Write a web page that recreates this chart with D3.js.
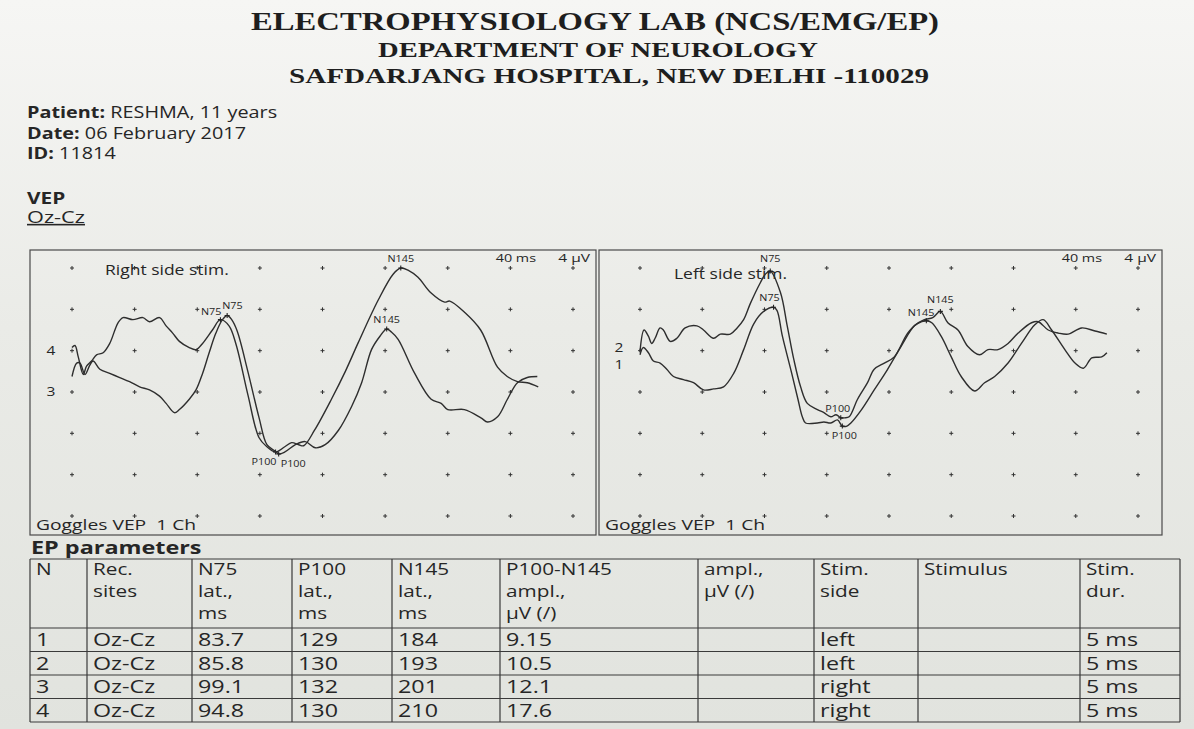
<!DOCTYPE html>
<html>
<head>
<meta charset="utf-8">
<script src="https://cdn.jsdelivr.net/npm/d3@7"></script>
<style>
body { margin: 0; background: #eceee9; }
svg { display: block; }
</style>
</head>
<body>
<div id="chart"></div>
<script>
// ---- data ----
const timeTicks = [0, 40, 80, 120, 160, 200, 240, 280, 320];   // ms, 40 ms / div
const uvTicks = [-8, -4, 0, 4, 8, 12, 16];                      // µV, 4 µV / div (negative up)

const panelTitles = ["Right side stim.", "Left side stim."];
const panelTraceNames = [["4", "3"], ["2", "1"]];
const panelTraceLabelUv = [[-0.1, 3.9], [-0.4, 1.3]];

// [ms, µV] samples, one array per curve
const trace4 = [[0,-0.3],[1.9,-0.5],[4,0.6],[7.2,2.3],[9.3,1.5],[12.5,1.0],[15.7,0.4],[19.9,0.2],[24.1,-0.7],[29.4,-2.7],[32.6,-3.2],[38.9,-3.0],[45.3,-3.2],[49.5,-2.8],[55.9,-3.2],[60.1,-2.4],[64.3,-1.7],[68.6,-0.9],[74.9,-0.3],[79.2,-0.1],[83.4,-0.7],[89.7,-2.0],[94.8,-3.0],[100.3,-2.4],[104.8,-0.6],[112.4,4.3],[119.4,8.4],[124.5,9.3],[130,9.8],[135.9,9.3],[140.3,8.9],[144.8,9.1],[148,9.2],[154.9,7.7],[165.7,4.7],[174.6,2.0],[182.9,-0.8],[195.6,-4.9],[205.1,-7.4],[210,-8.0],[214.6,-7.8],[221,-7.1],[229.2,-5.6],[238,-4.7],[241.3,-4.8],[250.8,-3.7],[261,-2.0],[271.8,1.6],[278,2.5],[284.5,3.0],[290.8,3.1],[297.8,3.5]];
const trace3 = [[0,2.5],[3.0,1.2],[5.1,1.2],[8.3,2.3],[11.4,1.4],[13.5,1.0],[17.8,1.8],[24.1,2.2],[30.5,2.6],[36.8,3.0],[43.2,3.5],[49.5,3.8],[55.9,4.4],[60.1,5.1],[65.4,6.0],[68.6,5.7],[74.9,4.7],[79.2,3.8],[83.4,2.2],[87.6,0.2],[91.9,-1.7],[96.1,-3.0],[99.1,-3.4],[102,-3.0],[105.5,-1.9],[112.3,2.0],[119.5,6.5],[124.5,9.1],[129.5,9.7],[132,10.0],[136,9.8],[142.7,9.1],[149,8.8],[155.4,9.4],[161.7,9.1],[170.2,7.7],[178.6,5.4],[185,3.1],[191.3,-0.1],[196.7,-1.4],[201,-2.1],[204,-1.8],[208.3,-1.1],[218.9,2.2],[229.4,4.7],[235.8,5.1],[240,5.7],[250.6,5.7],[261.2,6.5],[265.4,6.9],[271.8,6.4],[278.1,4.7],[284.5,3.1],[290.8,2.6],[297.2,2.5]];
const trace1 = [[0,0.1],[2.6,-2.0],[5.4,-1.4],[7.5,-0.7],[9.7,-1.2],[12.9,-2.2],[15,-2.0],[19.4,-0.9],[23.7,-1.2],[29,-2.2],[36.6,-2.4],[40.8,-2.0],[47.3,-1.2],[51.6,-1.6],[58,-1.6],[62.4,-2.2],[66.6,-3.0],[71,-4.6],[77.4,-6.6],[80.5,-7.4],[83.7,-7.7],[90.3,-5.6],[94.6,-2.4],[98.9,0.9],[103.2,3.5],[107.5,5.1],[114,5.7],[118.2,6.0],[122.6,6.4],[126,6.2],[129,6.5],[131.5,6.5],[134.4,6.4],[139.8,4.7],[146.2,3.1],[150.5,1.8],[157,1.2],[163.4,0.6],[172,-1.7],[178,-2.6],[184,-2.9],[187.5,-2.7],[193.5,-1.4],[200,0.6],[206.4,2.5],[215,3.9],[221.4,3.1],[227.9,2.5],[236.5,1.2],[245.1,-0.7],[253.7,-2.5],[259.1,-3.0],[264.5,-2.0],[273,-0.1],[279.5,1.2],[284.9,1.7],[290.3,0.7],[296.7,0.6],[300,0.2]];
const trace2 = [[0,0.4],[2.1,-0.3],[5.4,0.2],[8.6,1.0],[12.9,1.2],[17.2,1.8],[21.5,2.5],[27.9,2.8],[34.4,3.1],[40.8,3.8],[47.3,3.7],[53.7,3.5],[60.2,2.2],[66.6,-0.1],[73.1,-2.6],[79.5,-3.8],[85.8,-4.2],[88,-3.9],[91.5,-1.4],[97.5,2.2],[101.5,4.7],[104.3,6.4],[106.4,7.0],[114,7.0],[118.2,6.9],[122.6,7.0],[126.9,6.7],[130,7.3],[133,7.3],[135.5,7.0],[141.9,5.8],[150.5,3.8],[159.1,1.8],[167.7,-0.4],[176.3,-2.4],[182.7,-3.0],[188.1,-3.2],[193,-3.8],[197.8,-2.7],[204.3,-2.0],[210.7,-0.4],[218.2,0.4],[223.6,-0.1],[230,-0.1],[236.5,-0.7],[243,-1.7],[251.6,-2.7],[255.9,-2.8],[262.3,-2.0],[268.8,-1.7],[275.2,-1.6],[283.8,-2.2],[292.4,-1.9],[300,-1.6]];

// EP parameters table
const rowN = [1, 2, 3, 4];
const recSites = ["Oz-Cz", "Oz-Cz", "Oz-Cz", "Oz-Cz"];
const n75Lat = [83.7, 85.8, 99.1, 94.8];
const p100Lat = [129, 130, 132, 130];
const n145Lat = [184, 193, 201, 210];
const p100n145Amp = [9.15, 10.5, 12.1, 17.6];
const ampl = ["", "", "", ""];
const stimSide = ["left", "left", "right", "right"];
const stimulus = ["", "", "", ""];
const stimDur = ["5 ms", "5 ms", "5 ms", "5 ms"];
const tableHeader = [["N"], ["Rec.", "sites"], ["N75", "lat.,", "ms"], ["P100", "lat.,", "ms"], ["N145", "lat.,", "ms"],
                     ["P100-N145", "ampl.,", "µV (/)"], ["ampl.,", "µV (/)"], ["Stim.", "side"], ["Stimulus"], ["Stim.", "dur."]];

// which table rows belong to which panel
const panelRows = [[3, 2], [1, 0]];
const rowTraces = [trace1, trace2, trace3, trace4];

// ---- layout ----
const width = 1194, height = 729;
const sans = "'Open Sans', 'Noto Sans', sans-serif";
const ink = "#262626";
const stretch = 1.28;   // the printout's type is wide

const svg = d3.select("#chart").append("svg")
              .attr("width", width)
              .attr("height", height);

const grad = svg.append("defs").append("linearGradient")
                .attr("id", "paper").attr("x1", 0).attr("y1", 0).attr("x2", 0).attr("y2", 1);
grad.append("stop").attr("offset", "0%").attr("stop-color", "#f6f6f4");
grad.append("stop").attr("offset", "45%").attr("stop-color", "#eaebe7");
grad.append("stop").attr("offset", "100%").attr("stop-color", "#e1e3de");
svg.append("rect").attr("width", width).attr("height", height).attr("fill", "url(#paper)");

// text helper: widened sans text
function label(parent, x, y, str, size, opts = {}) {
    const t = parent.append("text")
                    .attr("transform", `translate(${x},${y}) scale(${opts.sx || stretch},1)`)
                    .attr("text-anchor", opts.anchor || "start")
                    .style("font-family", sans)
                    .style("font-size", size + "px")
                    .style("font-weight", opts.bold ? "bold" : "normal")
                    .style("white-space", "pre")
                    .attr("fill", ink);
    if (str !== null) t.text(str);
    return t;
}

// Letterhead
const serif = "'Liberation Serif', 'DejaVu Serif', serif";
const heads = [
    {text: "ELECTROPHYSIOLOGY LAB (NCS/EMG/EP)", x: 595, y: 30, size: 25, len: 688},
    {text: "DEPARTMENT OF NEUROLOGY", x: 598, y: 57, size: 20, len: 440},
    {text: "SAFDARJANG HOSPITAL, NEW DELHI -110029", x: 609, y: 83, size: 22, len: 640}
];
svg.selectAll("text.head")
   .data(heads)
   .join("text")
   .attr("class", "head")
   .attr("x", d => d.x)
   .attr("y", d => d.y)
   .attr("text-anchor", "middle")
   .attr("textLength", d => d.len)
   .attr("lengthAdjust", "spacingAndGlyphs")
   .style("font-family", serif)
   .style("font-weight", "bold")
   .style("font-size", d => d.size + "px")
   .attr("fill", "#1e1e1e")
   .text(d => d.text);

// Patient info
const info = [["Patient:", " RESHMA, 11 years"], ["Date:", " 06 February 2017"], ["ID:", " 11814"]];
info.forEach((d, i) => {
    const t = label(svg, 27, 118 + i * 20.5, null, 16, {sx: 1.24});
    t.append("tspan").style("font-weight", "bold").text(d[0]);
    t.append("tspan").text(d[1]);
});
label(svg, 27, 204, "VEP", 16, {bold: true, sx: 1.3});
label(svg, 27, 223, "Oz-Cz", 16, {sx: 1.36}).style("text-decoration", "underline");

// ---- waveform panels ----
const panels = [
    {x: 30, y: 250, w: 566, h: 285, x0: 72, x1: 573},
    {x: 599, y: 250, w: 563, h: 285, x0: 640, x1: 1138}
];

// label placement per table row: [dx, dy, anchor] for N75, P100, N145
const peakPlace = {
    3: [[1, -5, "end"], [1, 13, "end"], [0, -6, "middle"]],
    2: [[-5, -7, "start"], [2, 13, "start"], [0, -6, "middle"]],
    0: [[0, -9, "middle"], [-3, -6, "middle"], [8, -5, "end"]],
    1: [[-4, -6, "middle"], [2, 13, "middle"], [0, -8, "middle"]]
};

const line = d3.line().curve(d3.curveCatmullRom.alpha(0.5));

panels.forEach((p, pi) => {
    const g = svg.append("g");

    const x = d3.scaleLinear()
                .domain(d3.extent(timeTicks))
                .range([p.x0, p.x1]);
    const y = d3.scaleLinear()
                .domain(d3.extent(uvTicks))
                .range([268, 516]);

    g.append("rect")
     .attr("x", p.x).attr("y", p.y)
     .attr("width", p.w).attr("height", p.h)
     .attr("fill", "none")
     .attr("stroke", "#4a4a4a")
     .attr("stroke-width", 1.2);

    // grid of small crosses
    const grid = [];
    timeTicks.forEach(t => uvTicks.forEach(v => grid.push([t, v])));
    g.selectAll("path.cross")
     .data(grid)
     .join("path")
     .attr("class", "cross")
     .attr("d", d => {
         const cx = x(d[0]), cy = y(d[1]);
         return `M${cx - 2},${cy}H${cx + 2}M${cx},${cy - 2}V${cy + 2}`;
     })
     .attr("stroke", "#333")
     .attr("stroke-width", 1);

    // texts
    label(g, p.x + 75, pi === 0 ? 275 : 279, panelTitles[pi], 14, {sx: 1.25});
    label(g, p.x + p.w - 60, 262, timeTicks[1] + " ms", 11.5, {anchor: "end", sx: 1.25});
    label(g, p.x + p.w - 6, 262, (uvTicks[1] - uvTicks[0]) + " µV", 11.5, {anchor: "end", sx: 1.35});
    label(g, p.x + 6, 530, "Goggles VEP  1 Ch", 14.5, {sx: 1.33});

    // trace number labels at the left
    panelTraceNames[pi].forEach((name, i) => {
        label(g, p.x0 - 21, y(panelTraceLabelUv[pi][i]) + 5, name, 13.5, {anchor: "middle", sx: 1.15});
    });

    // curves
    panelRows[pi].forEach(r => {
        const data = rowTraces[r];
        g.append("path")
         .attr("d", line(data.map(d => [x(d[0]), y(d[1])])))
         .attr("fill", "none")
         .attr("stroke", "#2e2e2e")
         .attr("stroke-width", 1.4)
         .attr("stroke-linejoin", "round");

        // peak markers from the table latencies
        const valueAt = t => data.reduce((a, b) => Math.abs(b[0] - t) < Math.abs(a[0] - t) ? b : a)[1];
        const peaks = [["N75", n75Lat[r]], ["P100", p100Lat[r]], ["N145", n145Lat[r]]];
        peaks.forEach((pk, k) => {
            const px = x(pk[1]), py = y(valueAt(pk[1]));
            const pl = peakPlace[r][k];
            g.append("path")
             .attr("d", `M${px - 2.5},${py}H${px + 2.5}M${px},${py - 2.5}V${py + 2.5}`)
             .attr("stroke", "#222").attr("stroke-width", 1.1);
            label(g, px + pl[0], py + pl[1], pk[0], 9, {anchor: pl[2], sx: 1.2});
        });
    });
});

// ---- EP parameters table ----
label(svg, 31, 554, "EP parameters", 18, {bold: true, sx: 1.3});

const colX = [30, 87, 192, 292, 392, 500, 698, 814, 918, 1080, 1180];
const rowY = [559, 628, 651.5, 675, 698.5, 722];
const tbl = svg.append("g").attr("stroke", "#3a3a3a").attr("stroke-width", 1.2);

tbl.selectAll("line.h")
   .data(rowY)
   .join("line")
   .attr("class", "h")
   .attr("x1", colX[0]).attr("x2", colX[colX.length - 1])
   .attr("y1", d => d).attr("y2", d => d);
tbl.selectAll("line.v")
   .data(colX)
   .join("line")
   .attr("class", "v")
   .attr("x1", d => d).attr("x2", d => d)
   .attr("y1", rowY[0]).attr("y2", rowY[rowY.length - 1]);

// header
tableHeader.forEach((lines, c) => {
    lines.forEach((s, k) => {
        label(svg, colX[c] + 6, 575 + k * 22, s, 17, {sx: 1.22});
    });
});

// body
const columns = [rowN, recSites, n75Lat, p100Lat, n145Lat, p100n145Amp, ampl, stimSide, stimulus, stimDur];
columns.forEach((col, c) => {
    col.forEach((d, i) => {
        if (d !== "") label(svg, colX[c] + 6, rowY[i + 1] + 18, String(d), 18.5, {sx: 1.26});
    });
});
</script>
</body>
</html>
